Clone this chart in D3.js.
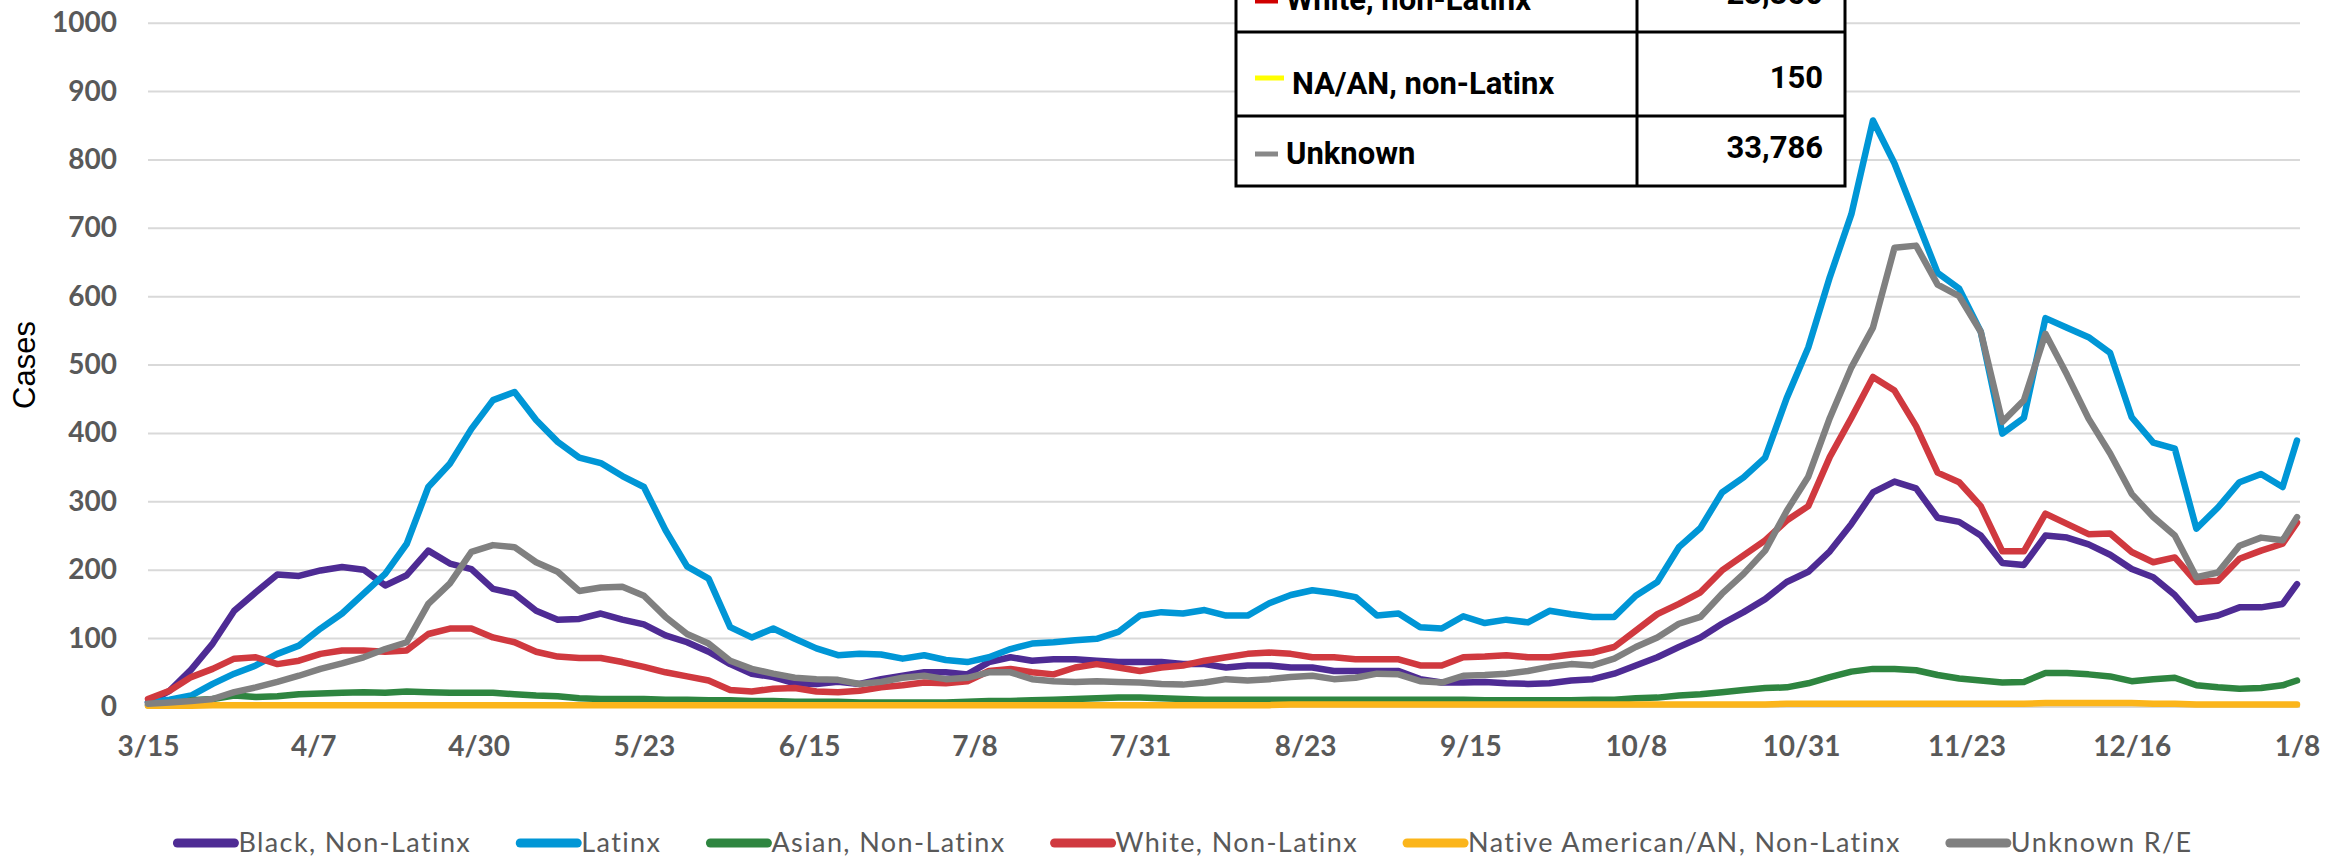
<!DOCTYPE html>
<html>
<head>
  <title>Daily cases by race/ethnicity</title>
  <script src="https://cdn.jsdelivr.net/npm/d3@7"></script>
  <style>
    body { margin: 0; background: #fff; }
    svg { display: block; }
  </style>
</head>
<body>
  <main id="container"></main>

  <script type="module">
    // x axis tick labels (every 23 days, 3/15/2020 to 1/8/2021)
    const tickLabels = ["3/15", "4/7", "4/30", "5/23", "6/15", "7/8", "7/31", "8/23",
      "9/15", "10/8", "10/31", "11/23", "12/16", "1/8"];
    const yTicks = [0, 100, 200, 300, 400, 500, 600, 700, 800, 900, 1000];

    // values read every 3 days from 3/15, last one on 1/8
    const black = [6,23,54,92,140,167,193,191,199,204, 200,177,192,228,209,201,172,165,140,127,
      128,136,127,120,104,94,80,62,48,43, 34,33,36,33,40,45,50,50,47,65,
      72,67,69,69,67,65,65,65,62,62, 57,60,60,57,57,52,52,52,52,40,
      35,35,36,34,33,34,38,40,48,60, 72,87,101,121,138,157,182,197,227,267,
      313,329,319,276,270,250,210,207,250,247, 237,222,201,189,163,127,133,145,145,150, 179];
    const latinx = [6,10,16,33,48,60,77,89,114,136, 165,194,238,321,355,406,448,460,419,387,
      364,356,337,321,258,205,187,116,101,114, 99,85,75,77,76,70,75,68,65,72,
      84,92,94,97,99,109,133,138,136,141, 133,133,151,163,170,166,160,133,136,116,
      114,132,122,127,123,140,135,131,131,162, 182,233,261,313,335,364,451,525,628,720,
      857,794,714,634,611,548,399,422,568,554, 540,517,423,386,377,260,291,328,340,321, 389];
    const asian = [2,3,9,11,16,14,15,18,19,20, 21,20,22,21,20,20,20,18,16,15,
      12,11,11,11,10,10,9,9,8,8, 7,7,7,6,6,6,6,6,7,8,
      8,9,10,11,12,13,13,12,11,10, 10,10,10,10,10,10,10,10,10,10,
      10,10,9,9,9,9,9,10,10,12, 13,16,18,21,24,27,28,34,43,51,
      55,55,53,46,41,38,35,36,49,49, 47,44,37,40,42,31,28,26,27,31, 38];
    const white = [11,23,43,55,70,72,62,67,77,82, 82,80,82,106,114,114,101,94,80,73,
      71,71,65,58,50,44,38,24,22,26, 27,22,21,23,28,31,35,34,37,52,
      55,50,47,57,62,57,52,57,60,67, 72,77,79,77,72,72,69,69,69,60,
      60,72,73,75,72,72,76,79,87,111, 135,150,167,199,221,243,272,293,365,422,
      482,462,410,342,328,293,227,227,282,267, 252,253,226,211,218,182,184,216,228,238, 269];
    const native = [1,1,1,2,2,2,2,2,2,2, 2,2,2,2,2,2,2,2,2,2,
      2,2,2,2,2,2,2,2,2,2, 2,2,2,2,2,2,2,2,2,2,
      2,2,2,2,2,2,2,2,2,2, 2,2,2,3,3,3,3,3,3,3,
      3,3,3,3,3,3,3,3,3,3, 3,3,3,3,3,3,4,4,4,4,
      4,4,4,4,4,4,4,4,5,5, 5,5,5,4,4,3,3,3,3,3, 3];
    const unknown = [4,6,8,11,21,28,36,45,55,63, 72,84,94,150,180,226,236,233,211,197,
      169,174,175,162,131,106,92,67,55,48, 42,40,39,33,36,42,45,40,42,50,
      50,40,37,36,37,36,35,33,32,35, 40,38,40,43,45,40,42,48,47,37,
      35,45,46,48,52,58,62,60,70,87, 101,121,131,165,194,228,286,336,422,496,
      554,671,674,617,600,548,416,448,545,485, 421,370,311,277,250,189,196,235,247,243, 277];

    const seriesNames = ["Black, Non-Latinx", "Latinx", "Asian, Non-Latinx", "White, Non-Latinx",
      "Native American/AN, Non-Latinx", "Unknown R/E"];
    const seriesValues = [black, latinx, asian, white, native, unknown];
    const seriesColors = ["#4e2b94", "#0096d6", "#2e8540", "#d0393f", "#fbb51b", "#808080"];

    // summary table (top rows cut off in the original)
    const tableLabels = ["White, non-Latinx", "NA/AN, non-Latinx", "Unknown"];
    const tableValues = ["23,350", "150", "33,786"];
    const tableColors = ["#d00000", "#ffff00", "#888888"];

    // setup
    const vizWidth = 2335;
    const vizHeight = 858;
    const plotLeft = 148;
    const plotRight = 2300;

    const startUtc = Date.UTC(2020, 2, 15);
    const dayMs = 864e5;
    const sampleDays = d3.range(0, 298, 3).concat([299]);
    const dates = sampleDays.map(d => new Date(startUtc + d * dayMs));
    const parseTick = t => {
      const [m, d] = t.split("/").map(Number);
      return new Date(Date.UTC(m >= 3 ? 2020 : 2021, m - 1, d));
    };
    const tickDates = tickLabels.map(parseTick);

    const svg = d3.select("#container")
      .append("svg")
      .attr("width", vizWidth)
      .attr("height", vizHeight);

    const x = d3.scaleUtc()
      .domain([dates[0], dates[dates.length - 1]])
      .range([plotLeft, 2297]);

    const y = d3.scaleLinear()
      .domain([0, 1000])
      .range([706.5, 22.7]);

    // y axis + gridlines
    const axisY = svg.append("g")
      .attr("transform", `translate(${plotLeft},0)`)
      .call(d3.axisLeft(y).tickValues(yTicks).tickFormat(d3.format("d"))
        .tickSize(-(plotRight - plotLeft)).tickPadding(31));
    axisY.select(".domain").remove();
    axisY.selectAll("line").attr("stroke", "#d9d9d9").attr("stroke-width", 2);
    axisY.selectAll("text")
      .attr("fill", "#595959")
      .style("font-family", "Lato, sans-serif")
      .style("font-weight", "bold")
      .style("font-size", "28px");

    // x axis
    const axisX = svg.append("g")
      .attr("transform", `translate(0,${y(0)})`)
      .call(d3.axisBottom(x).tickValues(tickDates).tickFormat((d, i) => tickLabels[i]).tickSize(0).tickPadding(30));
    axisX.select(".domain").remove();
    axisX.selectAll("text")
      .attr("fill", "#595959")
      .style("font-family", "Lato, sans-serif")
      .style("font-weight", "bold")
      .style("font-size", "28px");

    svg.append("text")
      .attr("transform", "translate(35,365) rotate(-90)")
      .attr("text-anchor", "middle")
      .style("font-family", "'Liberation Sans', Arial, sans-serif")
      .style("font-size", "31px")
      .text("Cases");

    // lines
    const line = d3.line()
      .x((d, i) => x(dates[i]))
      .y(d => y(d));

    svg.append("g").selectAll("path")
      .data(seriesValues)
      .join("path")
      .attr("d", line)
      .attr("fill", "none")
      .attr("stroke", (d, i) => seriesColors[i])
      .attr("stroke-width", 6.5)
      .attr("stroke-linejoin", "round")
      .attr("stroke-linecap", "round");

    // legend
    const legend = svg.append("g");
    const items = legend.selectAll("g")
      .data(seriesNames)
      .join("g");
    items.append("line")
      .attr("x1", 0).attr("x2", 57)
      .attr("y1", 843).attr("y2", 843)
      .attr("stroke", (d, i) => seriesColors[i])
      .attr("stroke-width", 9)
      .attr("stroke-linecap", "round");
    items.append("text")
      .attr("x", 61)
      .attr("y", 852)
      .attr("fill", "#595959")
      .style("font-family", "Lato, sans-serif")
      .style("font-size", "27px")
      .style("letter-spacing", "1.4px")
      .text(d => d);
    let cursor = 0;
    const offsets = [];
    items.each(function () {
      offsets.push(cursor);
      cursor += 61 + d3.select(this).select("text").node().getComputedTextLength() + 49;
    });
    const legendStart = 1185 - (cursor - 49) / 2;
    items.attr("transform", (d, i) => `translate(${legendStart + offsets[i]},0)`);

    // table
    const tableLeft = 1236, tableRight = 1845, tableDivider = 1637;
    const rowBottoms = [32, 116, 186];
    const keyY = [1, 78, 154];
    const table = svg.append("g");
    table.append("rect")
      .attr("x", tableLeft).attr("y", -60)
      .attr("width", tableRight - tableLeft).attr("height", 186 + 60)
      .attr("fill", "#fff").attr("stroke", "#000").attr("stroke-width", 3);
    table.append("line")
      .attr("x1", tableDivider).attr("x2", tableDivider)
      .attr("y1", -60).attr("y2", 186)
      .attr("stroke", "#000").attr("stroke-width", 3);
    table.selectAll("line.row")
      .data(rowBottoms.slice(0, -1))
      .join("line")
      .attr("class", "row")
      .attr("x1", tableLeft).attr("x2", tableRight)
      .attr("y1", d => d).attr("y2", d => d)
      .attr("stroke", "#000").attr("stroke-width", 3);
    table.selectAll("line.key")
      .data(tableLabels)
      .join("line")
      .attr("class", "key")
      .attr("x1", 1255).attr("x2", (d, i) => i === 1 ? 1284 : 1278)
      .attr("y1", (d, i) => keyY[i])
      .attr("y2", (d, i) => keyY[i])
      .attr("stroke", (d, i) => tableColors[i])
      .attr("stroke-width", 5);
    table.selectAll("text.label")
      .data(tableLabels)
      .join("text")
      .attr("class", "label")
      .attr("x", (d, i) => i === 1 ? 1292 : 1286)
      .attr("y", (d, i) => rowBottoms[i] - 22)
      .style("font-family", "Roboto, sans-serif")
      .style("font-weight", "bold")
      .style("font-size", "31px")
      .text(d => d);
    table.selectAll("text.value")
      .data(tableValues)
      .join("text")
      .attr("class", "value")
      .attr("x", 1823)
      .attr("y", (d, i) => rowBottoms[i] - 28)
      .attr("text-anchor", "end")
      .style("font-family", "Roboto, sans-serif")
      .style("font-weight", "bold")
      .style("font-size", "31px")
      .text(d => d);
  </script>
</body>
</html>
